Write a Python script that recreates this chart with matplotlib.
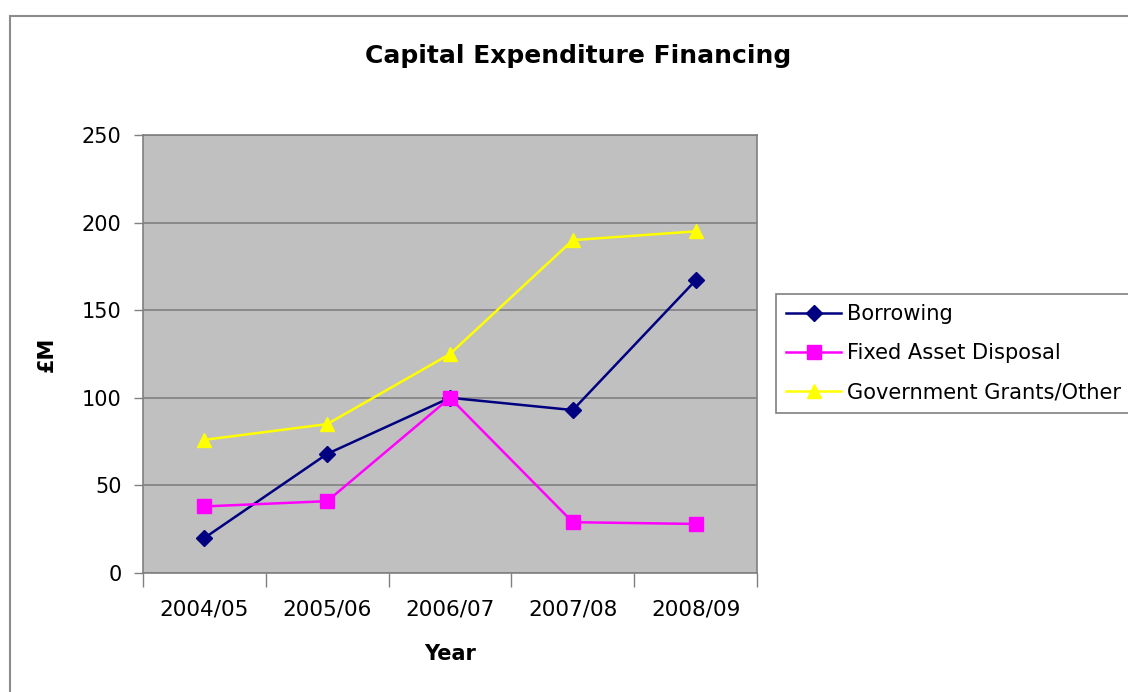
import matplotlib.pyplot as plt
from matplotlib.patches import Rectangle

years = ['2004/05', '2005/06', '2006/07', '2007/08', '2008/09']
borrowing = [20, 68, 100, 93, 167]
asset_disposal = [38, 41, 100, 29, 28]
grants_other = [76, 85, 125, 190, 195]

plt.rcParams['font.family'] = 'DejaVu Sans'

fig = plt.figure(figsize=(11.28, 6.92), dpi=100)
fig.patch.set_facecolor('white')

# outer chart frame (runs off the right and bottom of the picture)
fig.add_artist(Rectangle((10 / 1128, -0.2), 2, 1 - 16 / 692 + 0.2,
                         transform=fig.transFigure, fill=False,
                         edgecolor='#8c8c8c', linewidth=1.5))

ax = fig.add_axes([143 / 1128, 1 - 573 / 692, 614 / 1128, (573 - 135) / 692])
ax.set_facecolor('#c0c0c0')

x = range(len(years))
ax.plot(x, borrowing, color='#000080', marker='D', markersize=8, linewidth=1.8,
        label='Borrowing', zorder=3)
ax.plot(x, asset_disposal, color='#ff00ff', marker='s', markersize=10, linewidth=1.8,
        label='Fixed Asset Disposal', zorder=3)
ax.plot(x, grants_other, color='#ffff00', marker='^', markersize=10, linewidth=1.8,
        label='Government Grants/Other', zorder=3)

ax.set_xlim(-0.5, len(years) - 0.5)
ax.set_ylim(0, 250)
ax.set_yticks(range(0, 251, 50))
ax.yaxis.grid(True, color='#808080', linewidth=1.2)
ax.set_axisbelow(True)

# category boundaries get the tick marks, centres get the labels
ax.set_xticks([i - 0.5 for i in range(len(years) + 1)])
ax.set_xticklabels([])
ax.set_xticks(list(x), minor=True)
ax.set_xticklabels(years, minor=True)
ax.tick_params(axis='x', which='major', length=10, color='#808080', width=1)
ax.tick_params(axis='x', which='minor', length=0, pad=19, labelsize=15.5)
ax.tick_params(axis='y', length=6.5, color='#808080', width=1, pad=9, labelsize=15)

for s in ax.spines.values():
    s.set_color('#808080')
    s.set_linewidth(1.2)

ax.set_xlabel('Year', fontsize=15, fontweight='bold', labelpad=18)
ax.set_ylabel('£M', fontsize=15, fontweight='bold', labelpad=18)

fig.text(578 / 1128, 1 - 56 / 692, 'Capital Expenditure Financing',
         ha='center', va='center', fontsize=18, fontweight='bold')

leg = ax.legend(loc='upper left', bbox_to_anchor=(776 / 1128, 1 - 294 / 692),
                bbox_transform=fig.transFigure, fontsize=15.1, frameon=True,
                fancybox=False, edgecolor='#808080', framealpha=1,
                handlelength=2.6, handletextpad=0.3, labelspacing=0.9,
                borderpad=0.5, borderaxespad=0)
leg.get_frame().set_linewidth(1.2)

fig.savefig('out.png', dpi=100)
